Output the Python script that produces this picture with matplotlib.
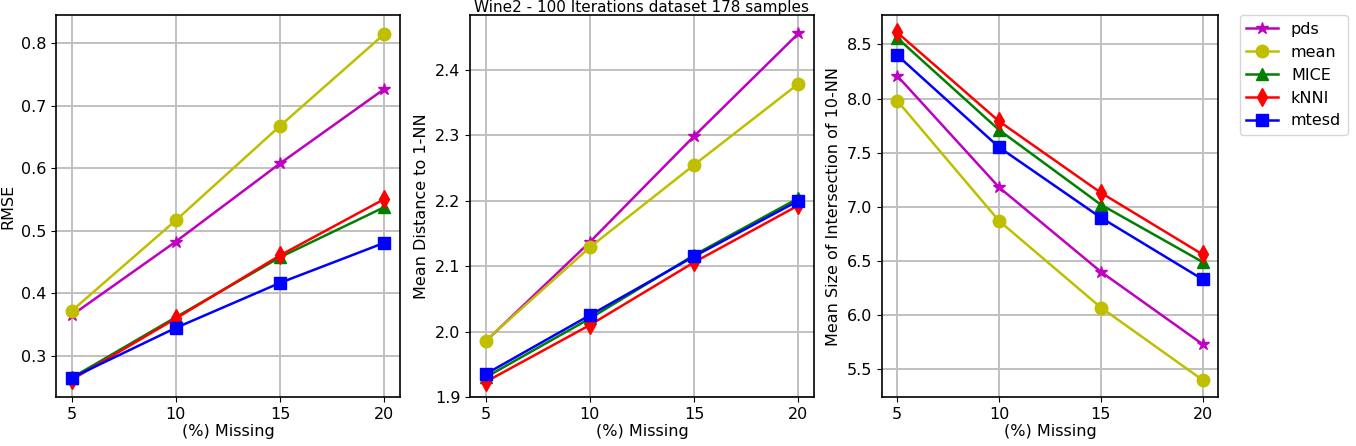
import numpy as np
import matplotlib.pyplot as plt

missing = [5, 10, 15, 20]
methods = ["pds", "mean", "MICE", "kNNI", "mtesd"]
styles = ["m*-", "yo-", "g^-", "rd-", "bs-"]

rmse_pds = [0.365, 0.483, 0.608, 0.727]
rmse_mean = [0.372, 0.517, 0.668, 0.815]
rmse_mice = [0.265, 0.362, 0.458, 0.538]
rmse_knni = [0.262, 0.360, 0.461, 0.551]
rmse_mtesd = [0.265, 0.345, 0.417, 0.481]

dist_pds = [1.985, 2.137, 2.299, 2.456]
dist_mean = [1.986, 2.129, 2.255, 2.379]
dist_mice = [1.930, 2.020, 2.117, 2.204]
dist_knni = [1.923, 2.010, 2.106, 2.193]
dist_mtesd = [1.935, 2.025, 2.115, 2.200]

inter_pds = [8.21, 7.18, 6.40, 5.73]
inter_mean = [7.98, 6.87, 6.07, 5.40]
inter_mice = [8.56, 7.71, 7.02, 6.49]
inter_knni = [8.61, 7.79, 7.13, 6.56]
inter_mtesd = [8.40, 7.55, 6.90, 6.33]

rmse = [rmse_pds, rmse_mean, rmse_mice, rmse_knni, rmse_mtesd]
dist = [dist_pds, dist_mean, dist_mice, dist_knni, dist_mtesd]
inter = [inter_pds, inter_mean, inter_mice, inter_knni, inter_mtesd]

plt.rcParams["font.size"] = 11.5

fig = plt.figure(figsize=(13.56, 4.46), dpi=100)
ax1 = fig.add_axes([0.0413, 0.110, 0.2537, 0.856])
ax2 = fig.add_axes([0.3466, 0.110, 0.2537, 0.856])
ax3 = fig.add_axes([0.6504, 0.110, 0.2478, 0.856])

def draw(ax, data, ylabel):
    for vals, st, name in zip(data, styles, methods):
        ax.plot(missing, vals, st, label=name, markersize=9, linewidth=1.8)
    ax.set_xticks(missing)
    ax.set_xlabel("(%) Missing", labelpad=2)
    ax.set_ylabel(ylabel)
    ax.grid(True, color="#c0c0c0", linewidth=1.4)
    for s in ax.spines.values():
        s.set_linewidth(1.2)

draw(ax1, rmse, "RMSE")
ax1.set_ylim(0.2345, 0.845)
draw(ax2, dist, "Mean Distance to 1-NN")
ax2.set_ylim(1.9, 2.484)
ax2.set_title("Wine2 - 100 Iterations dataset 178 samples", fontsize=11, pad=2)
draw(ax3, inter, "Mean Size of Intersection of 10-NN")
ax3.set_ylim(5.244, 8.77)
ax3.legend(loc="upper left", bbox_to_anchor=(1.065, 1.0), borderaxespad=0)

fig.savefig("out.png", dpi=100)
